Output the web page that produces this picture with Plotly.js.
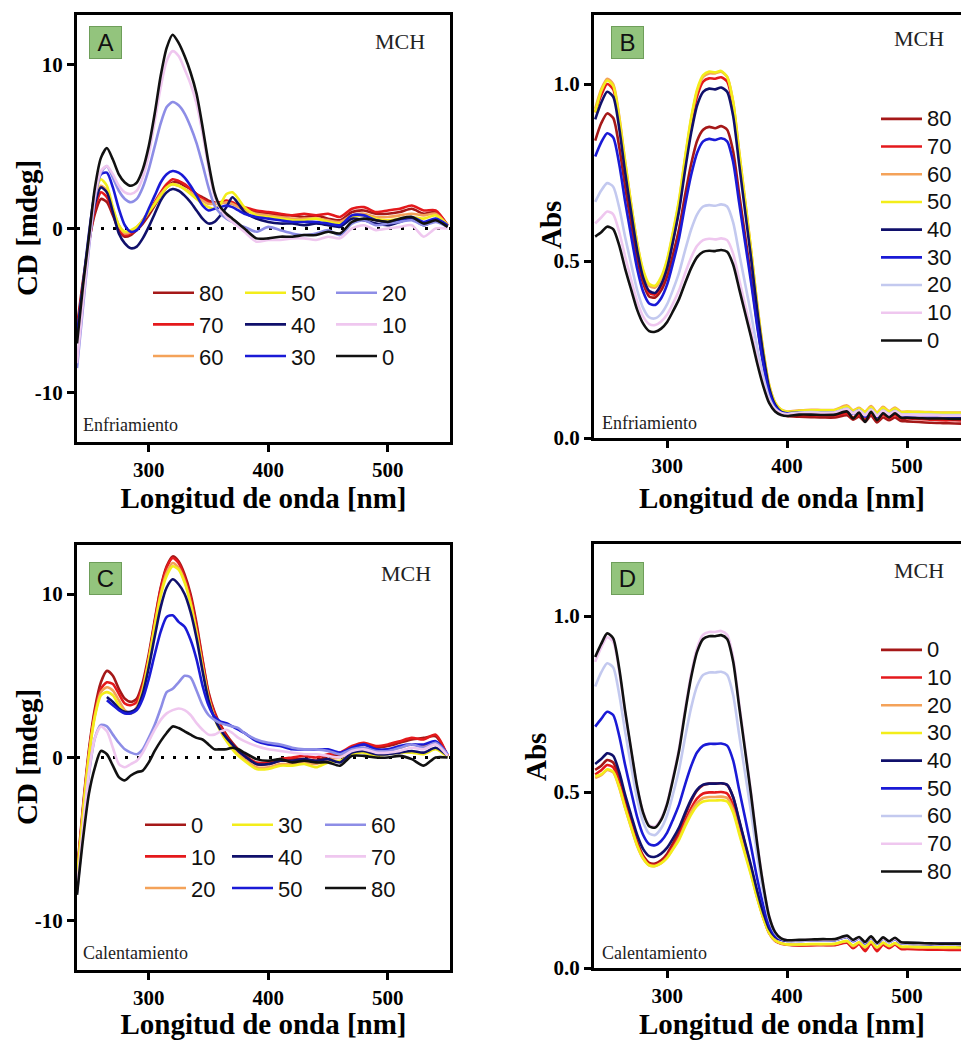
<!DOCTYPE html>
<html>
<head>
<meta charset="utf-8">
<script src="https://cdn.plot.ly/plotly-3.0.1.min.js"></script>
<style>
html,body{margin:0;padding:0;overflow:hidden;background:#fff;}
#chart{width:972px;height:1040px;}
</style>
</head>
<body>
<div id="chart"></div>
<script>
// ---------------- wavelengths ----------------
const wlCD = [240,245,250,255,260,265,270,275,280,285,290,295,300,305,310,315,320,325,330,335,340,345,350,355,360,365,370,375,380,390,400,410,420,430,440,450,460,470,480,490,500,510,520,530,540,550];
const wlAbs = [240,245,250,255,260,265,270,275,280,285,290,295,300,305,310,315,320,325,330,335,340,345,350,355,360,365,370,375,380,385,390,395,400,410,420,430,440,450,455,460,465,470,475,480,485,490,495,500,510,520,530,540,550];

// ---------------- labels ----------------
const tempsCool = ['80','70','60','50','40','30','20','10','0'];
const tempsHeat = ['0','10','20','30','40','50','60','70','80'];
const cdTickVals = [-10, 0, 10];
const cdTickText = ['-10', '0', '10'];
const absTickVals = [0, 0.5, 1.0];

// ---------------- Panel A: CD, Enfriamiento ----------------
const A80 = [-6.0,-3.2,-0.8,0.9,1.8,1.6,0.8,-0.1,-0.5,-0.4,-0.1,0.3,0.8,1.4,2.0,2.5,2.8,2.8,2.6,2.4,2.1,1.9,1.7,1.6,1.6,1.6,1.5,1.4,1.2,1.0,0.9,0.8,0.8,0.7,0.8,0.6,0.5,1.0,1.1,0.9,0.9,1.0,1.2,0.9,1.0,0.2];
const A70 = [-6.3,-3.4,-0.9,1.2,2.2,1.9,1.0,0.0,-0.4,-0.3,0.0,0.5,1.0,1.6,2.2,2.7,3.0,2.9,2.7,2.4,2.1,1.8,1.6,1.5,1.6,1.7,1.6,1.4,1.3,1.1,1.0,0.9,0.8,0.9,0.8,0.9,0.7,1.2,1.3,1.0,1.1,1.2,1.4,1.1,1.1,0.2];
const A60 = [-6.5,-3.6,-0.8,1.6,2.6,2.3,1.2,0.2,-0.3,-0.2,0.1,0.5,1.0,1.5,2.1,2.5,2.7,2.6,2.4,2.2,1.9,1.7,1.5,1.5,1.5,1.6,1.5,1.3,1.1,0.9,0.8,0.7,0.6,0.6,0.6,0.5,0.4,0.8,0.9,0.7,0.7,0.8,0.9,0.8,0.9,0.2];
const A50 = [-6.8,-3.5,-0.4,2.0,3.0,2.6,1.3,0.2,-0.2,-0.1,0.1,0.5,1.0,1.5,2.0,2.5,2.7,2.6,2.4,2.1,1.8,1.5,1.3,1.2,1.5,2.1,2.2,1.8,1.3,0.8,0.7,0.6,0.5,0.5,0.6,0.4,0.3,0.7,0.8,0.6,0.5,0.6,0.7,0.6,0.8,0.2];
const A40 = [-6.5,-3.5,-0.8,1.5,2.5,2.2,1.0,-0.3,-0.9,-1.2,-1.1,-0.6,0.1,0.9,1.7,2.2,2.4,2.3,2.0,1.6,1.1,0.6,0.3,0.4,0.8,1.3,1.9,1.5,1.0,0.6,0.4,0.3,0.3,0.2,0.3,0.2,0.1,0.6,0.5,0.3,0.2,0.4,0.6,0.2,0.5,0.1];
const A30 = [-6.6,-3.4,-0.3,2.2,3.3,3.4,2.5,1.2,0.2,-0.2,-0.1,0.4,1.2,2.0,2.8,3.3,3.5,3.4,3.1,2.6,2.0,1.4,1.1,1.2,1.3,1.4,1.3,1.1,0.9,0.7,0.6,0.5,0.4,0.4,0.4,0.3,0.2,0.8,0.8,0.5,0.4,0.5,0.7,0.4,0.6,0.2];
const A20 = [-8.5,-4.8,-1.2,1.8,3.4,3.8,3.1,2.3,1.8,1.6,1.8,2.5,3.6,5.0,6.4,7.4,7.7,7.5,7.0,6.2,5.2,3.9,2.5,1.4,0.9,0.6,0.4,0.2,0.1,-0.2,0.1,-0.1,-0.3,-0.4,-0.3,-0.1,-0.4,0.3,0.5,0.2,0.3,0.4,0.5,0.2,0.4,0.1];
const A10 = [-8.2,-4.5,-1.0,2.0,3.5,3.8,3.3,2.6,2.2,2.1,2.3,3.1,4.5,6.5,8.6,10.2,10.8,10.5,9.7,8.8,7.6,5.8,3.7,2.0,1.2,0.7,0.4,0.1,-0.2,-0.8,-0.7,-0.7,-0.6,-0.6,-0.7,-0.5,-0.6,0.0,0.2,-0.1,0.0,0.1,0.2,-0.5,0.0,0.0];
const A0  = [-7.0,-3.5,-0.5,2.5,4.3,4.9,4.2,3.3,2.8,2.6,2.8,3.6,5.0,7.0,9.3,11.0,11.8,11.3,10.5,9.5,8.2,6.2,4.0,2.2,1.3,0.9,0.6,0.3,0.0,-0.6,-0.6,-0.5,-0.5,-0.4,-0.4,-0.2,-0.3,0.4,0.6,0.5,0.4,0.6,0.7,0.3,0.5,0.1];

// ---------------- Panel B: Abs, Enfriamiento ----------------
const B80 = [0.84,0.889,0.917,0.904,0.823,0.709,0.605,0.506,0.437,0.40,0.397,0.417,0.457,0.52,0.592,0.687,0.774,0.84,0.871,0.879,0.875,0.881,0.871,0.81,0.69,0.571,0.452,0.324,0.213,0.128,0.085,0.068,0.062,0.06,0.059,0.058,0.058,0.064,0.052,0.06,0.046,0.063,0.044,0.058,0.05,0.058,0.048,0.047,0.045,0.043,0.042,0.041,0.04];
const B70 = [0.92,0.968,1.0,0.985,0.893,0.762,0.643,0.53,0.45,0.41,0.405,0.43,0.48,0.56,0.652,0.773,0.884,0.966,1.007,1.016,1.015,1.019,1.007,0.937,0.80,0.66,0.52,0.37,0.243,0.144,0.095,0.075,0.07,0.066,0.065,0.064,0.064,0.07,0.058,0.066,0.052,0.07,0.05,0.066,0.056,0.065,0.055,0.055,0.054,0.052,0.05,0.05,0.049];
const B60 = [0.93,0.985,1.015,1.0,0.91,0.78,0.66,0.55,0.47,0.43,0.425,0.45,0.50,0.58,0.67,0.79,0.90,0.98,1.02,1.03,1.03,1.035,1.02,0.95,0.81,0.67,0.53,0.38,0.25,0.15,0.10,0.08,0.075,0.078,0.080,0.079,0.080,0.092,0.078,0.085,0.075,0.090,0.072,0.088,0.076,0.086,0.074,0.075,0.074,0.073,0.072,0.072,0.071];
const B50 = [0.92,0.98,1.01,0.995,0.905,0.78,0.66,0.55,0.475,0.435,0.43,0.455,0.505,0.585,0.675,0.795,0.905,0.985,1.025,1.035,1.033,1.037,1.02,0.95,0.81,0.67,0.53,0.38,0.25,0.15,0.10,0.08,0.074,0.077,0.078,0.078,0.079,0.089,0.077,0.083,0.074,0.087,0.071,0.085,0.075,0.083,0.073,0.074,0.073,0.072,0.071,0.071,0.070];
const B40 = [0.90,0.947,0.978,0.964,0.876,0.75,0.637,0.53,0.453,0.415,0.41,0.434,0.481,0.558,0.644,0.758,0.862,0.94,0.978,0.987,0.985,0.99,0.978,0.91,0.775,0.64,0.507,0.363,0.238,0.142,0.094,0.074,0.07,0.072,0.072,0.071,0.072,0.082,0.07,0.078,0.062,0.08,0.06,0.077,0.066,0.076,0.064,0.064,0.063,0.062,0.062,0.061,0.061];
const B30 = [0.795,0.835,0.861,0.849,0.774,0.667,0.57,0.478,0.413,0.38,0.376,0.395,0.434,0.496,0.566,0.659,0.743,0.806,0.838,0.845,0.842,0.847,0.838,0.78,0.665,0.552,0.439,0.317,0.211,0.13,0.089,0.073,0.069,0.07,0.07,0.069,0.07,0.08,0.068,0.076,0.06,0.078,0.059,0.075,0.064,0.074,0.063,0.063,0.062,0.061,0.061,0.06,0.06];
const B20 = [0.667,0.699,0.72,0.71,0.651,0.567,0.491,0.418,0.367,0.341,0.338,0.351,0.378,0.42,0.468,0.531,0.589,0.632,0.654,0.658,0.656,0.66,0.654,0.609,0.522,0.436,0.349,0.257,0.176,0.114,0.083,0.071,0.068,0.072,0.073,0.072,0.073,0.083,0.071,0.079,0.066,0.081,0.064,0.078,0.068,0.077,0.067,0.067,0.066,0.066,0.065,0.065,0.065];
const B10 = [0.606,0.623,0.64,0.632,0.582,0.512,0.447,0.386,0.343,0.322,0.319,0.329,0.349,0.381,0.418,0.466,0.51,0.543,0.559,0.563,0.561,0.564,0.559,0.521,0.448,0.376,0.304,0.226,0.158,0.106,0.08,0.07,0.067,0.07,0.071,0.07,0.071,0.081,0.069,0.077,0.064,0.079,0.062,0.076,0.066,0.075,0.065,0.065,0.064,0.064,0.063,0.063,0.063];
const B0  = [0.569,0.581,0.597,0.59,0.544,0.478,0.419,0.362,0.323,0.302,0.30,0.309,0.328,0.359,0.393,0.438,0.48,0.511,0.526,0.529,0.528,0.531,0.526,0.49,0.422,0.353,0.285,0.212,0.148,0.099,0.075,0.065,0.062,0.066,0.066,0.065,0.066,0.075,0.055,0.072,0.045,0.074,0.05,0.07,0.058,0.07,0.057,0.057,0.056,0.055,0.055,0.054,0.054];

// ---------------- Panel C: CD, Calentamiento ----------------
const C0  = [-7.0,-3.0,0.5,3.0,4.6,5.3,5.0,4.2,3.6,3.4,3.6,4.6,6.3,8.4,10.4,11.7,12.3,12.0,11.2,10.0,8.2,6.0,4.0,2.8,2.0,1.4,0.9,0.5,0.2,-0.4,-0.4,-0.2,-0.1,-0.1,-0.2,0.1,0.2,0.6,0.8,0.6,0.7,0.9,1.1,1.2,1.3,0.1];
const C10 = [-7.2,-3.2,0.3,2.8,4.2,4.6,4.5,3.9,3.3,3.2,3.4,4.4,6.1,8.3,10.3,11.6,12.2,11.9,11.0,9.8,8.0,5.9,3.9,2.7,1.9,1.3,0.8,0.4,0.1,-0.3,-0.3,-0.1,0.0,0.1,0.0,0.2,0.3,0.7,0.9,0.7,0.8,1.0,1.2,1.1,1.4,0.1];
const C20 = [-7.3,-3.3,0.2,2.6,4.0,4.3,4.1,3.5,2.9,2.7,3.1,4.2,6.0,8.1,10.0,11.3,11.9,11.6,10.8,9.5,7.7,5.6,3.7,2.5,1.7,1.1,0.6,0.2,-0.1,-0.6,-0.6,-0.4,-0.4,-0.3,-0.4,-0.1,0.0,0.4,0.6,0.4,0.5,0.6,0.8,0.7,0.9,0.1];
const C30 = [-7.4,-3.4,0.1,2.5,3.8,4.0,3.8,3.2,2.8,2.7,3.0,4.1,5.9,8.0,9.9,11.1,11.7,11.5,10.7,9.4,7.6,5.5,3.6,2.4,1.6,1.0,0.5,0.1,-0.2,-0.7,-0.7,-0.5,-0.5,-0.4,-0.6,-0.3,-0.2,0.2,0.3,0.1,0.2,0.3,0.3,0.2,0.5,0.0];
const C40 = [null,null,null,null,null,3.7,3.4,3.0,2.8,2.8,3.0,3.9,5.5,7.4,9.2,10.4,10.9,10.6,10.0,8.9,7.3,5.3,3.5,2.4,1.7,1.2,0.8,0.4,0.1,-0.4,-0.4,-0.2,-0.2,-0.1,-0.2,-0.1,-0.3,0.3,0.4,0.2,0.2,0.3,0.4,0.3,0.6,0.1];
const C50 = [null,null,null,null,null,3.5,3.2,2.9,2.7,2.7,2.9,3.6,4.8,6.3,7.7,8.6,8.7,8.3,8.0,7.2,6.0,4.4,3.2,2.5,2.2,2.1,1.9,1.7,1.5,1.0,0.8,0.7,0.5,0.5,0.5,0.5,0.3,0.6,0.8,0.5,0.5,0.7,0.8,0.8,1.0,0.2];
const C60 = [-8.3,-4.5,-1.0,1.2,2.0,1.9,1.4,0.9,0.5,0.3,0.2,0.5,1.2,2.0,3.0,4.0,4.2,4.6,5.0,4.9,4.1,3.2,2.6,2.3,2.1,2.0,1.9,1.8,1.5,1.1,0.9,0.8,0.6,0.5,0.5,0.4,0.2,0.5,0.6,0.4,0.4,0.6,0.8,0.6,0.9,0.2];
const C70 = [-8.0,-4.3,-0.9,1.2,1.9,1.6,0.6,-0.4,-0.6,-0.4,-0.2,0.3,1.0,1.7,2.3,2.7,2.9,3.0,2.9,2.6,2.1,1.7,1.4,1.4,1.6,1.7,1.5,1.2,1.0,0.7,0.5,0.4,0.3,0.2,0.2,0.1,0.0,0.4,0.5,0.3,0.3,0.4,0.6,0.5,0.8,0.1];
const C80 = [-8.4,-5.0,-2.2,-0.6,0.4,0.2,-0.5,-1.2,-1.4,-1.1,-0.9,-0.8,-0.3,0.4,1.0,1.5,1.9,1.8,1.6,1.4,1.2,1.1,0.8,0.5,0.5,0.5,0.6,0.5,0.3,-0.1,-0.2,-0.1,-0.3,-0.2,-0.3,-0.3,-0.5,0.1,0.1,0.0,0.0,0.1,-0.1,-0.5,0.0,0.0];

// ---------------- Panel D: Abs, Calentamiento ----------------
const D0  = [0.563,0.575,0.591,0.584,0.538,0.473,0.415,0.359,0.319,0.299,0.297,0.306,0.325,0.355,0.389,0.434,0.475,0.505,0.52,0.524,0.524,0.525,0.52,0.485,0.418,0.351,0.285,0.213,0.151,0.103,0.079,0.07,0.067,0.065,0.066,0.066,0.066,0.074,0.058,0.07,0.05,0.072,0.05,0.068,0.058,0.068,0.056,0.056,0.055,0.054,0.054,0.053,0.053];
const D10 = [0.55,0.562,0.577,0.57,0.526,0.463,0.407,0.353,0.315,0.295,0.293,0.301,0.318,0.346,0.376,0.417,0.454,0.482,0.496,0.499,0.499,0.50,0.496,0.462,0.398,0.335,0.272,0.204,0.145,0.099,0.077,0.069,0.066,0.064,0.064,0.065,0.065,0.072,0.056,0.068,0.048,0.07,0.048,0.066,0.056,0.066,0.054,0.054,0.053,0.052,0.052,0.051,0.051];
const D20 = [0.54,0.548,0.5625,0.556,0.513,0.454,0.399,0.347,0.311,0.292,0.29,0.298,0.314,0.34,0.369,0.408,0.444,0.47,0.483,0.486,0.486,0.487,0.483,0.451,0.389,0.328,0.267,0.201,0.144,0.1,0.078,0.07,0.067,0.066,0.067,0.067,0.068,0.076,0.062,0.072,0.058,0.074,0.057,0.071,0.062,0.07,0.06,0.059,0.058,0.058,0.057,0.057,0.057];
const D30 = [0.545,0.55,0.565,0.558,0.515,0.455,0.40,0.348,0.311,0.292,0.29,0.298,0.313,0.338,0.365,0.402,0.436,0.461,0.473,0.476,0.476,0.477,0.473,0.442,0.382,0.322,0.263,0.199,0.143,0.1,0.078,0.07,0.067,0.067,0.068,0.068,0.069,0.077,0.064,0.073,0.06,0.075,0.059,0.072,0.063,0.071,0.061,0.061,0.06,0.06,0.059,0.059,0.059];
const D40 = [0.58,0.594,0.61,0.603,0.557,0.492,0.434,0.378,0.338,0.318,0.316,0.325,0.342,0.369,0.4,0.441,0.479,0.507,0.521,0.524,0.524,0.525,0.521,0.486,0.421,0.355,0.29,0.22,0.159,0.112,0.089,0.08,0.077,0.078,0.079,0.08,0.08,0.089,0.078,0.086,0.071,0.088,0.07,0.085,0.075,0.084,0.072,0.071,0.071,0.07,0.07,0.07,0.069];
const D50 = [0.686,0.708,0.728,0.719,0.66,0.576,0.501,0.429,0.378,0.352,0.349,0.361,0.385,0.423,0.465,0.522,0.574,0.613,0.632,0.637,0.637,0.638,0.632,0.59,0.507,0.426,0.344,0.256,0.18,0.122,0.092,0.081,0.078,0.077,0.078,0.078,0.079,0.088,0.076,0.084,0.07,0.086,0.069,0.083,0.073,0.082,0.07,0.069,0.068,0.067,0.066,0.066,0.065];
const D60 = [0.80,0.84,0.866,0.854,0.778,0.671,0.573,0.48,0.415,0.382,0.378,0.397,0.435,0.496,0.565,0.656,0.74,0.802,0.833,0.84,0.84,0.842,0.833,0.776,0.664,0.553,0.442,0.322,0.218,0.139,0.099,0.083,0.079,0.078,0.079,0.079,0.08,0.089,0.078,0.085,0.072,0.087,0.07,0.084,0.074,0.083,0.071,0.07,0.069,0.068,0.067,0.067,0.066];
const D70 = [0.87,0.911,0.94,0.927,0.843,0.725,0.617,0.515,0.443,0.406,0.402,0.425,0.47,0.544,0.626,0.736,0.836,0.91,0.947,0.955,0.955,0.958,0.947,0.882,0.753,0.625,0.497,0.359,0.24,0.148,0.102,0.084,0.079,0.079,0.08,0.08,0.081,0.09,0.079,0.086,0.073,0.088,0.071,0.085,0.075,0.084,0.072,0.071,0.07,0.069,0.068,0.068,0.067];
const D80 = [0.884,0.921,0.951,0.937,0.852,0.73,0.62,0.515,0.441,0.403,0.399,0.421,0.466,0.538,0.619,0.727,0.826,0.899,0.935,0.943,0.943,0.946,0.935,0.871,0.744,0.618,0.491,0.355,0.238,0.147,0.102,0.084,0.079,0.08,0.081,0.082,0.082,0.092,0.08,0.088,0.074,0.09,0.072,0.087,0.076,0.086,0.073,0.072,0.071,0.07,0.069,0.069,0.068];

// ---------------- styling ----------------
const W = 972, H = 1040;
const SERIF = 'Liberation Serif, Times New Roman, serif';
const SANS = 'Liberation Sans, Arial, sans-serif';
const palCD  = ['#a51818','#e4191c','#f4a259','#f3ed1a','#10106b','#1a1ad6','#8d8de6','#efc7ef','#111111'];
const palAbs = ['#a51818','#e4191c','#f4a259','#f3ed1a','#10106b','#1a1ad6','#c3c9ef','#efc7ef','#111111'];

const px = v => v / W;
const py = v => 1 - v / H;

const traces = [];
function addSeries(xs, ys, name, color, xa, ya, leg, nameHtml) {
  traces.push({
    type: 'scatter', mode: 'lines', x: xs, y: ys,
    name: nameHtml || name, xaxis: xa, yaxis: ya, legend: leg,
    line: {color: color, width: 2.6, shape: 'spline', smoothing: 0.7},
    connectgaps: false, hoverinfo: 'skip'
  });
}

// Panel A
const seriesA = [A80, A70, A60, A50, A40, A30, A20, A10, A0];
const legA = ['legend','legend','legend','legend2','legend2','legend2','legend3','legend3','legend3'];
seriesA.forEach((s, i) => addSeries(wlCD, s, tempsCool[i], palCD[i], 'x', 'y', legA[i]));
// Panel B
const seriesB = [B80, B70, B60, B50, B40, B30, B20, B10, B0];
seriesB.forEach((s, i) => addSeries(wlAbs, s, tempsCool[i], palAbs[i], 'x2', 'y2', 'legend4',
  '<span style="font-size:22px">' + tempsCool[i] + '</span>'));
// Panel C
const seriesC = [C0, C10, C20, C30, C40, C50, C60, C70, C80];
const legC = ['legend5','legend5','legend5','legend6','legend6','legend6','legend7','legend7','legend7'];
seriesC.forEach((s, i) => addSeries(wlCD, s, tempsHeat[i], palCD[i], 'x3', 'y3', legC[i]));
// Panel D
const seriesD = [D0, D10, D20, D30, D40, D50, D60, D70, D80];
seriesD.forEach((s, i) => addSeries(wlAbs, s, tempsHeat[i], palAbs[i], 'x4', 'y4', 'legend8',
  '<span style="font-size:22px">' + tempsHeat[i] + '</span>'));

function xAxis(dom, range, anchor, standoff) {
  return {
    domain: dom, range: range, anchor: anchor,
    tickvals: [300, 400, 500], ticks: 'outside', ticklen: 7, tickwidth: 3, tickcolor: '#000',
    showline: true, linewidth: 3, linecolor: '#000', mirror: true,
    showgrid: false, zeroline: false,
    tickfont: {family: SERIF, size: 21, color: '#000', weight: 'bold'},
    title: {text: 'Longitud de onda [nm]', font: {family: SERIF, size: 29, color: '#000', weight: 'bold'}, standoff: standoff}
  };
}
function yAxis(dom, range, anchor, tickvals, ticktext, fmt) {
  const ax = {
    domain: dom, range: range, anchor: anchor,
    tickvals: tickvals, tickformat: fmt, ticks: 'outside', ticklen: 7, tickwidth: 3, tickcolor: '#000',
    showline: true, linewidth: 3, linecolor: '#000', mirror: true,
    showgrid: false, zeroline: false,
    tickfont: {family: SERIF, size: 21, color: '#000', weight: 'bold'}
  };
  if (ticktext) ax.ticktext = ticktext;
  return ax;
}

function legendBox(x, ytop, size) {
  return {
    x: px(x), y: py(ytop), xanchor: 'left', yanchor: 'top',
    orientation: 'v', bgcolor: 'rgba(0,0,0,0)', borderwidth: 0,
    font: {family: SANS, size: size, color: '#111'},
    itemwidth: 41, tracegroupgap: 0, itemclick: false, itemdoubleclick: false
  };
}

const annotations = [];
function tag(letter, cx, cy) {
  annotations.push({
    xref: 'paper', yref: 'paper', x: px(cx), y: py(cy), xanchor: 'center', yanchor: 'middle',
    text: letter, showarrow: false, font: {family: SANS, size: 24, color: '#111'},
    bgcolor: '#93c47d', bordercolor: '#6e9e5a', borderwidth: 1, width: 31, height: 31, borderpad: 0
  });
}
function label(text, x, y, size, anchor) {
  annotations.push({
    xref: 'paper', yref: 'paper', x: px(x), y: py(y), xanchor: anchor, yanchor: 'middle',
    text: text, showarrow: false, font: {family: SERIF, size: size, color: '#222'}
  });
}
function yTitle(text, cx, cy) {
  annotations.push({
    xref: 'paper', yref: 'paper', x: px(cx), y: py(cy), xanchor: 'center', yanchor: 'middle',
    text: text, textangle: -90, showarrow: false,
    font: {family: SERIF, size: 29, color: '#000', weight: 'bold'}
  });
}
tag('A', 105, 43); tag('B', 627, 43); tag('C', 105, 578); tag('D', 627, 578);
label('MCH', 427, 42, 22, 'right'); label('MCH', 946, 39, 22, 'right');
label('MCH', 433, 573, 22, 'right'); label('MCH', 946, 570, 22, 'right');
label('Enfriamiento', 81, 425, 18, 'left'); label('Enfriamiento', 600, 423, 18, 'left');
label('Calentamiento', 81, 953, 18, 'left'); label('Calentamiento', 600, 953, 18, 'left');
yTitle('CD [mdeg]', 27, 228); yTitle('Abs', 551, 225);
yTitle('CD [mdeg]', 27, 757); yTitle('Abs', 536, 757);

const zeroLine = (xr, yr) => ({
  type: 'line', xref: xr + ' domain', yref: yr, x0: 0, x1: 1, y0: 0, y1: 0,
  line: {color: '#000', width: 3, dash: '3px,9px'}, layer: 'below'
});

const layout = {
  width: W, height: H, autosize: false,
  margin: {l: 0, r: 0, t: 0, b: 0},
  paper_bgcolor: '#fff', plot_bgcolor: '#fff',
  showlegend: true,
  xaxis:  xAxis([px(77), px(450)], [240, 552], 'y', 6),
  yaxis:  yAxis([py(442), py(15)], [-13, 13], 'x', cdTickVals, cdTickText),
  xaxis2: xAxis([px(594), px(970)], [239, 552.5], 'y2', 11),
  yaxis2: yAxis([py(438), py(15)], [0, 1.195], 'x2', absTickVals, null, '.1f'),
  xaxis3: xAxis([px(77), px(450)], [240, 552], 'y3', 2),
  yaxis3: yAxis([py(970), py(545)], [-13, 13], 'x3', cdTickVals, cdTickText),
  xaxis4: xAxis([px(594), px(970)], [239, 552.5], 'y4', 12),
  yaxis4: yAxis([py(968), py(544)], [0, 1.205], 'x4', absTickVals, null, '.1f'),
  legend:  legendBox(148, 272, 22),
  legend2: legendBox(240, 272, 22),
  legend3: legendBox(331, 272, 22),
  legend4: legendBox(876, 100, 19),
  legend5: legendBox(140, 804, 22),
  legend6: legendBox(227, 804, 22),
  legend7: legendBox(320, 804, 22),
  legend8: legendBox(876, 631, 19),
  shapes: [zeroLine('x', 'y'), zeroLine('x3', 'y3')],
  annotations: annotations
};

Plotly.newPlot('chart', traces, layout, {displayModeBar: false, staticPlot: true});
</script>
</body>
</html>
